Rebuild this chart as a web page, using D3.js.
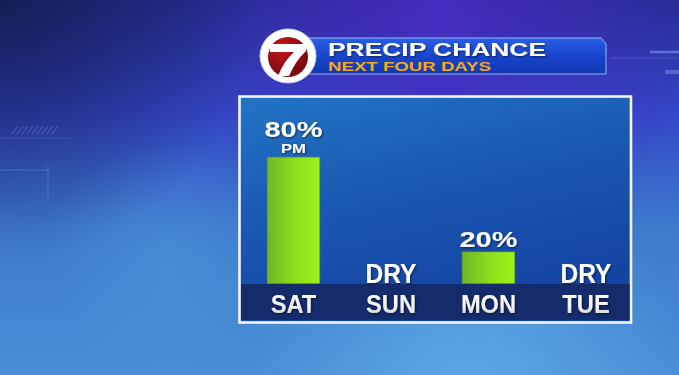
<!DOCTYPE html>
<html><head><meta charset="utf-8">
<script src="https://cdn.jsdelivr.net/npm/d3@7/dist/d3.min.js"></script>
<style>html,body{margin:0;padding:0;overflow:hidden;background:#2a3fb0}svg{display:block}</style>
</head><body><svg id="c" width="679" height="375"></svg>
<script>
const days = ["SAT", "SUN", "MON", "TUE"];
const chances = [80, 0, 20, 0];
const valueLabels = ["80%", "DRY", "20%", "DRY"];
const subLabels = ["PM", "", "", ""];
const titleMain = "PRECIP CHANCE";
const titleSub = "NEXT FOUR DAYS";

const svg = d3.select("#c");
const W = 679, H = 375;
const defs = svg.append("defs");

function lin(id, x1, y1, x2, y2, stops) {
  const g = defs.append("linearGradient").attr("id", id)
    .attr("x1", x1).attr("y1", y1).attr("x2", x2).attr("y2", y2);
  stops.forEach(s => g.append("stop").attr("offset", s[0]).attr("stop-color", s[1]).attr("stop-opacity", s[2] == null ? 1 : s[2]));
}
function rad(id, cx, cy, r, stops) {
  const g = defs.append("radialGradient").attr("id", id).attr("gradientUnits", "userSpaceOnUse")
    .attr("cx", cx).attr("cy", cy).attr("r", r);
  stops.forEach(s => g.append("stop").attr("offset", s[0]).attr("stop-color", s[1]).attr("stop-opacity", s[2] == null ? 1 : s[2]));
}
lin("bg", 0, 0, 0, 1, [[0, "#262c92"], [0.3, "#3346c6"], [0.6, "#3d7acc"], [1, "#4a8ed6"]]);
rad("bgPurple", 440, 10, 260, [[0, "#4a2cc6", 0.85], [1, "#4a2cc6", 0]]);
rad("bgDark", 0, 0, 260, [[0, "#121a48", 0.8], [1, "#121a48", 0]]);
rad("bgLight", 470, 380, 220, [[0, "#62b2ec", 0.7], [1, "#62b2ec", 0]]);
rad("bgLight2", 170, 260, 120, [[0, "#5aa6e0", 0.3], [1, "#5aa6e0", 0]]);
lin("panel", 0, 0, 0.4, 1, [[0, "#2275c4"], [0.5, "#1a58b2"], [1, "#1444a4"]]);
lin("bar", 0, 0, 1, 0, [[0, "#70b624"], [0.55, "#8fe01c"], [1, "#9cf21a"]]);
lin("banner", 0, 0, 0, 1, [[0, "#2a5ee6"], [0.5, "#1845cc"], [1, "#1238b2"]]);
lin("dayTxt", 0, 0, 0, 1, [[0, "#ffffff"], [0.6, "#f2f2f2"], [1, "#c8c8c8"]]);
rad("logoRed", 282, 48, 26, [[0, "#c4161c"], [1, "#7d0a0e"]]);
const f = defs.append("filter").attr("id", "shadow").attr("x", "-20%").attr("y", "-20%").attr("width", "140%").attr("height", "140%");
f.append("feDropShadow").attr("dx", 1).attr("dy", 1).attr("stdDeviation", 0.8).attr("flood-color", "#000").attr("flood-opacity", 0.55);

// Background
svg.append("rect").attr("width", W).attr("height", H).attr("fill", "url(#bg)");
svg.append("rect").attr("width", W).attr("height", H).attr("fill", "url(#bgPurple)");
svg.append("rect").attr("width", W).attr("height", H).attr("fill", "url(#bgDark)");
svg.append("rect").attr("width", W).attr("height", H).attr("fill", "url(#bgLight)");
svg.append("rect").attr("width", W).attr("height", H).attr("fill", "url(#bgLight2)");
// faint decorative lines
const deco = svg.append("g").attr("stroke", "#9fb8ff").attr("fill", "none");
deco.append("line").attr("x1", 650).attr("x2", 679).attr("y1", 52).attr("y2", 52).attr("stroke-width", 2.5).attr("stroke-opacity", 0.45);
deco.append("line").attr("x1", 665).attr("x2", 679).attr("y1", 72).attr("y2", 72).attr("stroke-width", 4).attr("stroke-opacity", 0.35);
deco.append("line").attr("x1", 610).attr("x2", 679).attr("y1", 58).attr("y2", 58).attr("stroke-width", 0.8).attr("stroke-opacity", 0.3);
deco.append("line").attr("x1", 0).attr("x2", 50).attr("y1", 170).attr("y2", 170).attr("stroke-width", 0.8).attr("stroke-opacity", 0.35);
deco.append("line").attr("x1", 48).attr("x2", 48).attr("y1", 165).attr("y2", 200).attr("stroke-width", 0.8).attr("stroke-opacity", 0.3);
deco.append("line").attr("x1", 0).attr("x2", 70).attr("y1", 138).attr("y2", 138).attr("stroke-width", 0.6).attr("stroke-opacity", 0.3);
for (let i = 0; i < 9; i++) {
  deco.append("line").attr("x1", 12 + i * 5).attr("y1", 134).attr("x2", 18 + i * 5).attr("y2", 126)
    .attr("stroke-width", 1).attr("stroke-opacity", 0.35);
}

// Title banner
const bx0 = 300, bx1 = 606, by0 = 38, by1 = 74;
svg.append("path")
  .attr("d", `M${bx0},${by0} L${bx1 - 5},${by0} L${bx1},${by0 + 6} L${bx1},${by1} L${bx0},${by1} Z`)
  .attr("fill", "url(#banner)").attr("stroke", "#9ab4f4").attr("stroke-width", 1);

// Logo
svg.append("ellipse").attr("cx", 288).attr("cy", 56).attr("rx", 28).attr("ry", 27)
  .attr("fill", "#ffffff").attr("stroke", "#c9d4f2").attr("stroke-width", 1);
svg.append("circle").attr("cx", 288).attr("cy", 57).attr("r", 20).attr("fill", "url(#logoRed)");
svg.append("path")
  .attr("d", "M270,44 L306,44 L306,51 Q296,60 289,76 L278,76 Q284,61 294,52 L270,52 Z")
  .attr("fill", "#ffffff");

// Title text
const title = svg.append("g").attr("font-family", "'Liberation Sans', Arial, sans-serif").attr("font-weight", "bold");
title.append("text").attr("x", 328).attr("y", 55.7).attr("font-size", 17.5)
  .attr("textLength", 218).attr("lengthAdjust", "spacingAndGlyphs")
  .attr("fill", "#ffffff").attr("filter", "url(#shadow)").text(titleMain);
title.append("text").attr("x", 328).attr("y", 71).attr("font-size", 13)
  .attr("textLength", 163).attr("lengthAdjust", "spacingAndGlyphs")
  .attr("fill", "#f5a915").text(titleSub);

// Panel
const px0 = 239.5, px1 = 631, py0 = 96.5, py1 = 322.5;
svg.append("rect").attr("x", px0).attr("y", py0).attr("width", px1 - px0).attr("height", py1 - py0)
  .attr("fill", "url(#panel)").attr("stroke", "#f4f6fb").attr("stroke-width", 2.6);

// Scales
const x = d3.scaleBand().domain(days).range([244.75, 634.75]).paddingInner(0.46).paddingOuter(0.23);
const y = d3.scaleLinear().domain([0, 100]).range([283.5, 125.5]);

// Dark axis band
svg.append("rect").attr("x", px0 + 1.5).attr("y", y(0) + 0.5).attr("width", px1 - px0 - 3).attr("height", 36)
  .attr("fill", "#142b6c");

// Bars
svg.append("g").selectAll("rect").data(days).join("rect")
  .attr("x", d => x(d))
  .attr("width", x.bandwidth())
  .attr("y", (d, i) => y(chances[i]))
  .attr("height", (d, i) => y(0) - y(chances[i]))
  .attr("fill", "url(#bar)")
  .attr("stroke", "#5d9a1c").attr("stroke-width", 0.6)
  .attr("display", (d, i) => chances[i] > 0 ? null : "none");

const font = "'Liberation Sans', Arial, sans-serif";
const cx = d => x(d) + x.bandwidth() / 2;

// Value labels
const vl = svg.append("g").attr("font-family", font).attr("font-weight", "bold")
  .attr("fill", "#ffffff").attr("text-anchor", "middle").attr("filter", "url(#shadow)");
vl.selectAll("text.v").data(days).join("text").attr("class", "v")
  .each(function (d, i) {
    const t = d3.select(this);
    const dry = chances[i] === 0;
    const hasSub = subLabels[i] !== "";
    t.attr("x", cx(d))
      .attr("y", dry ? y(0) - 0.8 : y(chances[i]) - (hasSub ? 19.8 : 4.6))
      .attr("font-size", dry ? 27 : 22)
      .attr("textLength", dry ? 51 : 58)
      .attr("lengthAdjust", "spacingAndGlyphs")
      .text(valueLabels[i]);
  });
vl.selectAll("text.s").data(days.filter((d, i) => subLabels[i] !== "")).join("text").attr("class", "s")
  .attr("x", d => cx(d))
  .attr("y", d => y(chances[days.indexOf(d)]) - 3.8)
  .attr("font-size", 12.5)
  .attr("textLength", 25).attr("lengthAdjust", "spacingAndGlyphs")
  .text(d => subLabels[days.indexOf(d)]);

// Day labels (axis)
const axis = svg.append("g").attr("transform", `translate(0,${y(0)})`)
  .call(d3.axisBottom(x).tickSize(0).tickPadding(0));
axis.select(".domain").remove();
axis.selectAll("text")
  .attr("y", 29.2).attr("dy", null)
  .attr("font-family", font).attr("font-weight", "bold").attr("font-size", 26)
  .attr("fill", "url(#dayTxt)").attr("filter", "url(#shadow)")
  .each(function (d) {
    const n = this.getComputedTextLength();
    d3.select(this).attr("textLength", n * 0.91).attr("lengthAdjust", "spacingAndGlyphs");
  });
</script></body></html>
